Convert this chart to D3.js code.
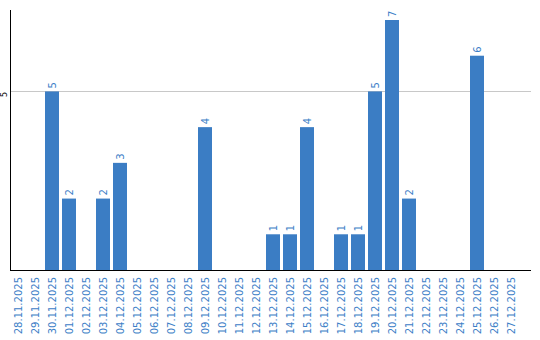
<!DOCTYPE html>
<html>
<head>
<meta charset="utf-8">
<script src="https://cdn.jsdelivr.net/npm/d3@7"></script>
<style>
    body { margin: 0; background: #fff; }
    svg { display: block; }
</style>
</head>
<body>
<script>
const dates = [
    '28.11.2025', '29.11.2025', '30.11.2025', '01.12.2025', '02.12.2025',
    '03.12.2025', '04.12.2025', '05.12.2025', '06.12.2025', '07.12.2025',
    '08.12.2025', '09.12.2025', '10.12.2025', '11.12.2025', '12.12.2025',
    '13.12.2025', '14.12.2025', '15.12.2025', '16.12.2025', '17.12.2025',
    '18.12.2025', '19.12.2025', '20.12.2025', '21.12.2025', '22.12.2025',
    '23.12.2025', '24.12.2025', '25.12.2025', '26.12.2025', '27.12.2025'
];

const counts = [
    0, 0, 5, 2, 0,
    2, 3, 0, 0, 0,
    0, 4, 0, 0, 0,
    1, 1, 4, 0, 1,
    1, 5, 7, 2, 0,
    0, 0, 6, 0, 0
];

const yTicks = [5];

const width = 540,
    height = 340;

const plotLeft = 10,
    plotRight = 531,
    plotTop = 10,
    plotBottom = 270;

const barColor = '#3b7dc4';
const textColor = '#3d80c7';

const svg = d3.select('body')
    .append('svg')
    .attr('width', width)
    .attr('height', height);

// 17px step, 14px bars
const x = d3.scaleBand()
    .domain(dates)
    .range([plotLeft - 0.5, plotLeft - 0.5 + 17 * dates.length])
    .paddingInner(3 / 17)
    .paddingOuter(1.5 / 17);

const y = d3.scaleLinear()
    .domain([0, d3.max(counts) * 1.04])
    .range([plotBottom, plotTop]);

// gridline
svg.selectAll('.grid')
    .data(yTicks)
    .enter()
    .append('line')
    .attr('class', 'grid')
    .attr('x1', plotLeft)
    .attr('x2', plotRight)
    .attr('y1', d => Math.round(y(d)) + 0.5)
    .attr('y2', d => Math.round(y(d)) + 0.5)
    .attr('stroke', '#c8c8c8')
    .attr('stroke-width', 1);

svg.selectAll('.ytick')
    .data(yTicks)
    .enter()
    .append('text')
    .attr('class', 'ytick')
    .attr('transform', d => 'translate(7,' + (y(d) + 3) + ') rotate(-90)')
    .attr('text-anchor', 'middle')
    .style('font-family', 'DejaVu Sans, Verdana, sans-serif')
    .style('font-size', '8px')
    .attr('fill', '#000')
    .text(d => d);

const data = dates.map((d, i) => ({ date: d, value: counts[i] }));

svg.selectAll('.bar')
    .data(data.filter(d => d.value > 0))
    .enter()
    .append('rect')
    .attr('class', 'bar')
    .attr('x', d => x(d.date))
    .attr('y', d => y(d.value))
    .attr('width', x.bandwidth())
    .attr('height', d => plotBottom - y(d.value))
    .attr('fill', barColor);

svg.selectAll('.val')
    .data(data.filter(d => d.value > 0))
    .enter()
    .append('text')
    .attr('class', 'val')
    .attr('transform', d => 'translate(' + (x(d.date) + x.bandwidth() / 2 + 4) + ',' + (y(d.value) - 3) + ') rotate(-90)')
    .attr('text-anchor', 'start')
    .style('font-family', 'DejaVu Sans, Verdana, sans-serif')
    .style('font-size', '10px')
    .attr('fill', textColor)
    .text(d => d.value);

svg.selectAll('.xlabel')
    .data(dates)
    .enter()
    .append('text')
    .attr('class', 'xlabel')
    .attr('transform', d => 'translate(' + (x(d) + x.bandwidth() / 2 + 4) + ',' + (plotBottom + 7) + ') rotate(-90)')
    .attr('text-anchor', 'end')
    .style('font-family', 'DejaVu Sans, Verdana, sans-serif')
    .style('font-size', '10px')
    .attr('fill', textColor)
    .text(d => d);

// axes
svg.append('line')
    .attr('x1', plotLeft + 0.5)
    .attr('x2', plotLeft + 0.5)
    .attr('y1', plotTop)
    .attr('y2', plotBottom)
    .attr('stroke', '#000')
    .attr('stroke-width', 1);

svg.append('line')
    .attr('x1', plotLeft)
    .attr('x2', plotRight)
    .attr('y1', plotBottom + 0.5)
    .attr('y2', plotBottom + 0.5)
    .attr('stroke', '#000')
    .attr('stroke-width', 1);
</script>
</body>
</html>
